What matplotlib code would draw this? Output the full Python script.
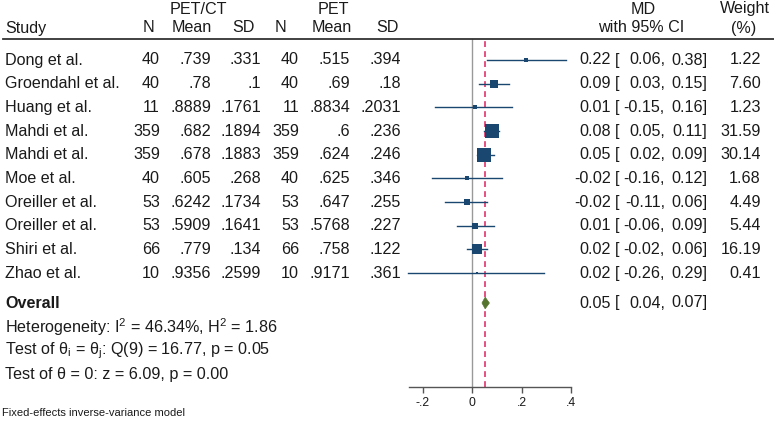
import matplotlib
matplotlib.use("Agg")
import matplotlib.pyplot as plt
from matplotlib.transforms import blended_transform_factory
from matplotlib.lines import Line2D
from matplotlib.patches import Polygon
import numpy as np

plt.rcParams['font.family'] = ['Liberation Sans', 'DejaVu Sans']
plt.rcParams['mathtext.fontset'] = 'custom'
plt.rcParams['mathtext.rm'] = 'Liberation Sans'
plt.rcParams['mathtext.it'] = 'Liberation Sans:italic'
plt.rcParams['mathtext.bf'] = 'Liberation Sans:bold'

# ---------------- data ----------------
studies = ["Dong et al.", "Groendahl et al.", "Huang et al.", "Mahdi et al.", "Mahdi et al.",
           "Moe et al.", "Oreiller et al.", "Oreiller et al.", "Shiri et al.", "Zhao et al."]
n1 = ["40", "40", "11", "359", "359", "40", "53", "53", "66", "10"]
mean1 = [".739", ".78", ".8889", ".682", ".678", ".605", ".6242", ".5909", ".779", ".9356"]
sd1 = [".331", ".1", ".1761", ".1894", ".1883", ".268", ".1734", ".1641", ".134", ".2599"]
n2 = ["40", "40", "11", "359", "359", "40", "53", "53", "66", "10"]
mean2 = [".515", ".69", ".8834", ".6", ".624", ".625", ".647", ".5768", ".758", ".9171"]
sd2 = [".394", ".18", ".2031", ".236", ".246", ".346", ".255", ".227", ".122", ".361"]
md = [0.22, 0.09, 0.01, 0.08, 0.05, -0.02, -0.02, 0.01, 0.02, 0.02]
ci_lo = [0.06, 0.03, -0.15, 0.05, 0.02, -0.16, -0.11, -0.06, -0.02, -0.26]
ci_hi = [0.38, 0.15, 0.16, 0.11, 0.09, 0.12, 0.06, 0.09, 0.06, 0.29]
weight = [1.22, 7.60, 1.23, 31.59, 30.14, 1.68, 4.49, 5.44, 16.19, 0.41]
overall_md = 0.053
overall_lo = 0.04
overall_hi = 0.07
overall_label = "0.05"
overall_lo_label = "0.04"
overall_hi_label = "0.07"
xticks = [-0.2, 0, 0.2, 0.4]
xtick_labels = ["-.2", "0", ".2", ".4"]
het_text = r"Heterogeneity: I$^{2}$ = 46.34%, H$^{2}$ = 1.86"
q_text = r"Test of θ$_\mathrm{i}$ = θ$_\mathrm{j}$: Q(9) = 16.77, p = 0.05"
z_text = "Test of θ = 0: z = 6.09, p = 0.00"
note_text = "Fixed-effects inverse-variance model"

# ---------------- layout ----------------
W, H, DPI = 774, 426, 100
fig = plt.figure(figsize=(W / DPI, H / DPI), dpi=DPI)
fig.patch.set_facecolor("white")

ROW0, ROWH = 60.0, 23.67  # pixel y of first row, row spacing
def row_of(py):
    return (py - ROW0) / ROWH

ax_left_px, ax_right_px = 409, 571
ax_top_px, ax_bot_px = 39, 387
ax = fig.add_axes([ax_left_px / W, 1 - ax_bot_px / H,
                   (ax_right_px - ax_left_px) / W, (ax_bot_px - ax_top_px) / H])
ax.set_xlim(-0.255, 0.4)
ax.set_ylim(row_of(ax_bot_px), row_of(ax_top_px))
ax.patch.set_alpha(0)
for s in ["top", "left", "right"]:
    ax.spines[s].set_visible(False)
ax.spines["bottom"].set_color("#555555")
ax.spines["bottom"].set_linewidth(1.0)
ax.set_yticks([])
ax.set_xticks(xticks)
ax.set_xticklabels(xtick_labels)
ax.tick_params(axis="x", direction="out", length=4, width=1, color="#555555",
               labelsize=8.7, pad=3, labelcolor="#1a1a1a")

navy = "#1a476f"
green = "#55752f"
red = "#e0336b"

ax.axvline(0, color="#999999", lw=1.0, zorder=1)
ax.axvline(overall_md, color=red, lw=1.2, ls=(0, (3.5, 2.5)), zorder=1)

rows = np.arange(len(studies))
maxw = max(weight)
for i in rows:
    ax.plot([ci_lo[i], ci_hi[i]], [i, i], color=navy, lw=1.0, zorder=2, clip_on=False)
    side_px = 14.0 * np.sqrt(weight[i] / maxw) + 0.8
    ax.plot(md[i], i, marker="s", ms=side_px * 72 / DPI, color=navy, mew=0,
            zorder=3, clip_on=False)

ov_row = row_of(303)
h = 5.8 / ROWH
diamond = Polygon([(overall_lo, ov_row), (overall_md, ov_row - h),
                   (overall_hi, ov_row), (overall_md, ov_row + h)],
                  closed=True, facecolor=green, edgecolor=green, lw=0.5, zorder=4)
ax.add_patch(diamond)

# ---------------- table text ----------------
tr = blended_transform_factory(fig.transFigure, ax.transData)
FS = 11.6
def txt(px, row, s, ha="left", **kw):
    fig.text(px / W, row, s, transform=tr, ha=ha, va="center", fontsize=kw.pop("fs", FS),
             color=kw.pop("color", "#1a1a1a"), **kw)

r_h1, r_h2 = row_of(9), row_of(28)
txt(198, r_h1, "PET/CT", ha="center")
txt(333, r_h1, "PET", ha="center")
txt(643, r_h1, "MD", ha="center")
txt(745, r_h1, "Weight", ha="center")
txt(5, r_h2, "Study")
txt(148, r_h2, "N", ha="center")
txt(192, r_h2, "Mean", ha="center")
txt(243, r_h2, "SD", ha="center")
txt(281, r_h2, "N", ha="center")
txt(332, r_h2, "Mean", ha="center")
txt(387, r_h2, "SD", ha="center")
txt(641, r_h2, "with 95% CI", ha="center")
txt(744, r_h2, "(%)", ha="center")

fig.add_artist(Line2D([3 / W, 1.0], [row_of(39), row_of(39)], transform=tr,
                      color="#333333", lw=1.3))

for i in rows:
    txt(5, i, studies[i])
    txt(160, i, n1[i], ha="right")
    txt(211, i, mean1[i], ha="right")
    txt(261, i, sd1[i], ha="right")
    txt(299, i, n2[i], ha="right")
    txt(350, i, mean2[i], ha="right")
    txt(401, i, sd2[i], ha="right")
    txt(611, i, f"{md[i]:.2f}", ha="right")
    txt(615, i, "[")
    txt(665, i, f"{ci_lo[i]:.2f},", ha="right")
    txt(707, i, f"{ci_hi[i]:.2f}]", ha="right")
    txt(761, i, f"{weight[i]:.2f}", ha="right")

txt(5, ov_row, "Overall", fontweight="bold")
txt(611, ov_row, overall_label, ha="right")
txt(615, ov_row, "[")
txt(665, ov_row, overall_lo_label + ",", ha="right")
txt(707, ov_row, overall_hi_label + "]", ha="right")

txt(5, row_of(327), het_text)
txt(5, row_of(351), q_text)
txt(5, row_of(375), z_text)
txt(2, row_of(413), note_text, fs=8)

fig.savefig("out.png", dpi=DPI, facecolor="white")
